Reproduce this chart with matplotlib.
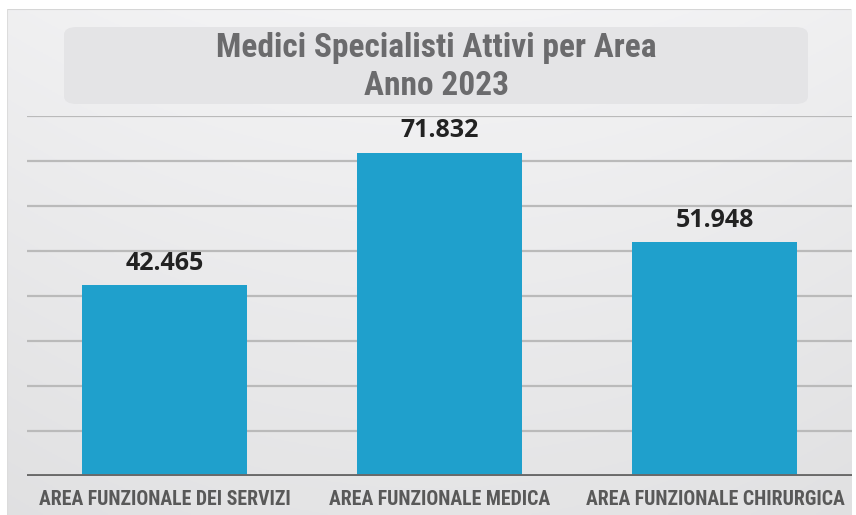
import numpy as np
import matplotlib.pyplot as plt
from matplotlib import font_manager
from matplotlib.font_manager import FontProperties
from matplotlib.patches import FancyBboxPatch

categories = ["AREA FUNZIONALE DEI SERVIZI", "AREA FUNZIONALE MEDICA",
              "AREA FUNZIONALE CHIRURGICA"]
values = [42465, 71832, 51948]
value_labels = ["42.465", "71.832", "51.948"]
title_lines = ["Medici Specialisti Attivi per Area", "Anno 2023"]


def pick_narrow(bold):
    # look for a condensed / narrow face among the installed fonts
    wanted = ["Liberation Sans Narrow", "Roboto Condensed", "Open Sans Condensed",
              "DejaVu Sans", "Noto Sans", "Open Sans", "Roboto"]
    fonts = font_manager.fontManager.ttflist
    for name in wanted:
        for f in fonts:
            w = f.weight if isinstance(f.weight, int) else 400
            is_bold = w >= 600 if isinstance(f.weight, int) else "bold" in str(f.weight)
            narrow = ("narrow" in f.name.lower() or "condensed" in f.name.lower()
                      or str(f.stretch) in ("condensed", "semi-condensed", "extra-condensed")
                      or (isinstance(f.stretch, int) and f.stretch < 100))
            if f.name == name and narrow and is_bold == bold and "italic" not in f.style:
                return FontProperties(fname=f.fname), True
    return FontProperties(family="Liberation Sans",
                          weight="bold" if bold else "normal"), False


title_fp, title_narrow = pick_narrow(True)

W, H = 856, 515
fig = plt.figure(figsize=(W / 100, H / 100), dpi=100)
fig.patch.set_facecolor("white")

# background panel with a soft gray gradient
bg = fig.add_axes([7 / W, 0, (851 - 7) / W, (H - 9) / H])
yy, xx = np.mgrid[0:1:200j, -1:1:300j]
shade = 0.955 - 0.06 * yy - 0.015 * xx ** 2
bg.imshow(np.dstack([shade, shade, shade + 0.005]).clip(0, 1),
          aspect="auto", extent=[0, 1, 0, 1], origin="upper")
bg.axhline(1, color="#d6d6d6", lw=1.5)
bg.axvline(0, color="#dcdcdc", lw=1.5)
bg.set_axis_off()

# title box
fig.patches.append(FancyBboxPatch((64 / W, 1 - 104 / H), (808 - 64) / W, (104 - 27) / H,
                                  boxstyle="round,pad=0,rounding_size=0.015",
                                  transform=fig.transFigure, facecolor="#e4e4e6",
                                  edgecolor="none", zorder=1))
tsize = 24 if title_narrow else 19.5
for ty, line in zip([48, 86], title_lines):
    fig.text(436 / W, 1 - ty / H, line, ha="center", va="center",
             fontproperties=title_fp, fontsize=tsize, color="#6b6b6d")

ax = fig.add_axes([27.5 / W, 39 / H, 825 / W, 360 / H])
ax.patch.set_alpha(0)
x = np.arange(len(categories))
ax.bar(x, values, width=0.6, color="#1fa0cc", zorder=3)
ax.set_xlim(-0.5, 2.5)
ax.set_ylim(0, 80000)
for g in range(10000, 80001, 10000):
    ax.axhline(g, color="#bababa", lw=1.6, zorder=1)
ax.axhline(0, color="#6a6a6a", lw=2.8, zorder=4)

for xi, v, lab in zip(x, values, value_labels):
    ax.annotate(lab, (xi, v), xytext=(0, 11), textcoords="offset points",
                ha="center", va="baseline", fontsize=18, fontweight="bold",
                color="#222222", family="Open Sans")

ax.set_xticks(x)
ax.set_xticklabels(categories, fontproperties=title_fp,
                   fontsize=14.2 if title_narrow else 11.5, color="#595959")
ax.tick_params(axis="x", length=0, pad=10)
ax.set_yticks([])
for s in ax.spines.values():
    s.set_visible(False)

fig.savefig("out.png", dpi=100)
